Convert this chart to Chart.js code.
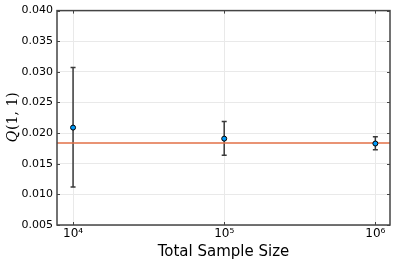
<!DOCTYPE html>
<html>
<head>
<meta charset="utf-8">
<script src="https://cdn.jsdelivr.net/npm/chart.js@4/dist/chart.umd.min.js"></script>
<style>
  html, body { margin: 0; padding: 0; background: #fff; }
  #wrap { width: 395px; height: 263px; }
</style>
</head>
<body>
<div id="wrap"><canvas id="c" width="395" height="263"></canvas></div>
<script>
// données
const sampleSizes = [1e4, 1e5, 1e6];
const qMeans = [0.0209, 0.0191, 0.0183];
const qLower = [0.0112, 0.0164, 0.0173];
const qUpper = [0.0307, 0.0219, 0.0194];
const refValue = 0.0184;
const xTicks = [1e4, 1e5, 1e6];
const xTickLabels = ['10⁴', '10⁵', '10⁶'];
const xMin = 7830, xMax = 1.25e6;
const yMin = 0.005, yMax = 0.040, yStep = 0.005;

// barres d'erreur
const errorBars = {
    id: 'errorBars',
    beforeDatasetsDraw(chart) {
        const { ctx, scales: { x, y } } = chart;
        ctx.save();
        ctx.strokeStyle = '#3a3a3a';
        ctx.lineWidth = 1.5;
        sampleSizes.forEach((s, i) => {
            const px = x.getPixelForValue(s);
            const top = y.getPixelForValue(qUpper[i]);
            const bot = y.getPixelForValue(qLower[i]);
            ctx.beginPath();
            ctx.moveTo(px, top); ctx.lineTo(px, bot);
            ctx.moveTo(px - 2.5, top); ctx.lineTo(px + 2.5, top);
            ctx.moveTo(px - 2.5, bot); ctx.lineTo(px + 2.5, bot);
            ctx.stroke();
        });
        ctx.restore();
    }
};

// cadre + petites graduations internes + titre de l'axe y
const frame = {
    id: 'frame',
    afterDraw(chart) {
        const { ctx, chartArea: a, scales: { x, y } } = chart;
        ctx.save();
        ctx.strokeStyle = '#444';
        ctx.lineWidth = 1.5;
        ctx.strokeRect(a.left, a.top, a.right - a.left, a.bottom - a.top);
        ctx.lineWidth = 1;
        ctx.beginPath();
        y.ticks.forEach(t => {
            const py = Math.round(y.getPixelForValue(t.value)) + 0.5;
            ctx.moveTo(a.left, py); ctx.lineTo(a.left + 3, py);
            ctx.moveTo(a.right, py); ctx.lineTo(a.right - 3, py);
        });
        xTicks.forEach(v => {
            const px = Math.round(x.getPixelForValue(v)) + 0.5;
            ctx.moveTo(px, a.bottom); ctx.lineTo(px, a.bottom - 3);
            ctx.moveTo(px, a.top); ctx.lineTo(px, a.top + 3);
        });
        ctx.stroke();

        // Q(1, 1)
        ctx.translate(13, (a.top + a.bottom) / 2);
        ctx.rotate(-Math.PI / 2);
        ctx.fillStyle = '#000';
        ctx.textBaseline = 'middle';
        ctx.font = 'italic 14px "DejaVu Serif"';
        const w1 = ctx.measureText('Q').width;
        ctx.font = '14px "DejaVu Serif"';
        const w2 = ctx.measureText('(1, 1)').width;
        let start = -(w1 + w2) / 2;
        ctx.textAlign = 'left';
        ctx.font = 'italic 14px "DejaVu Serif"';
        ctx.fillText('Q', start, 0);
        ctx.font = '14px "DejaVu Serif"';
        ctx.fillText('(1, 1)', start + w1 + 1, 0);
        ctx.restore();
    }
};

new Chart(document.getElementById('c'), {
    data: {
        datasets: [
            {
                type: 'line',
                data: [{ x: xMin, y: refValue }, { x: xMax, y: refValue }],
                borderColor: '#e26f46',
                borderWidth: 1.5,
                pointRadius: 0,
                order: 2
            },
            {
                type: 'scatter',
                data: sampleSizes.map((s, i) => ({ x: s, y: qMeans[i] })),
                backgroundColor: '#009af9',
                borderColor: '#000',
                borderWidth: 1,
                pointRadius: 2.5,
                order: 1
            }
        ]
    },
    options: {
        responsive: false,
        animation: false,
        events: [],
        layout: { padding: { top: 7, right: 4, left: 0, bottom: 0 } },
        plugins: { legend: { display: false }, tooltip: { enabled: false } },
        scales: {
            x: {
                type: 'logarithmic',
                min: xMin,
                max: xMax,
                afterBuildTicks: s => { s.ticks = xTicks.map(v => ({ value: v })); },
                afterFit: s => { s.height = 38; },
                grid: { color: '#e9e9e9', drawTicks: false },
                border: { display: false },
                ticks: {
                    color: '#000',
                    padding: 2,
                    font: { family: 'DejaVu Sans', size: 12 },
                    maxRotation: 0,
                    callback: (v) => xTickLabels[xTicks.indexOf(v)]
                },
                title: {
                    display: true,
                    text: 'Total Sample Size',
                    color: '#000',
                    font: { family: 'DejaVu Sans', size: 15 },
                    padding: { top: 0, bottom: 2 }
                }
            },
            y: {
                min: yMin,
                max: yMax,
                afterFit: s => { s.width = 57; },
                grid: { color: '#e9e9e9', drawTicks: false },
                border: { display: false },
                ticks: {
                    stepSize: yStep,
                    color: '#000',
                    padding: 4,
                    font: { family: 'DejaVu Sans', size: 11 },
                    callback: v => v.toFixed(3)
                }
            }
        }
    },
    plugins: [errorBars, frame]
});
</script>
</body>
</html>
